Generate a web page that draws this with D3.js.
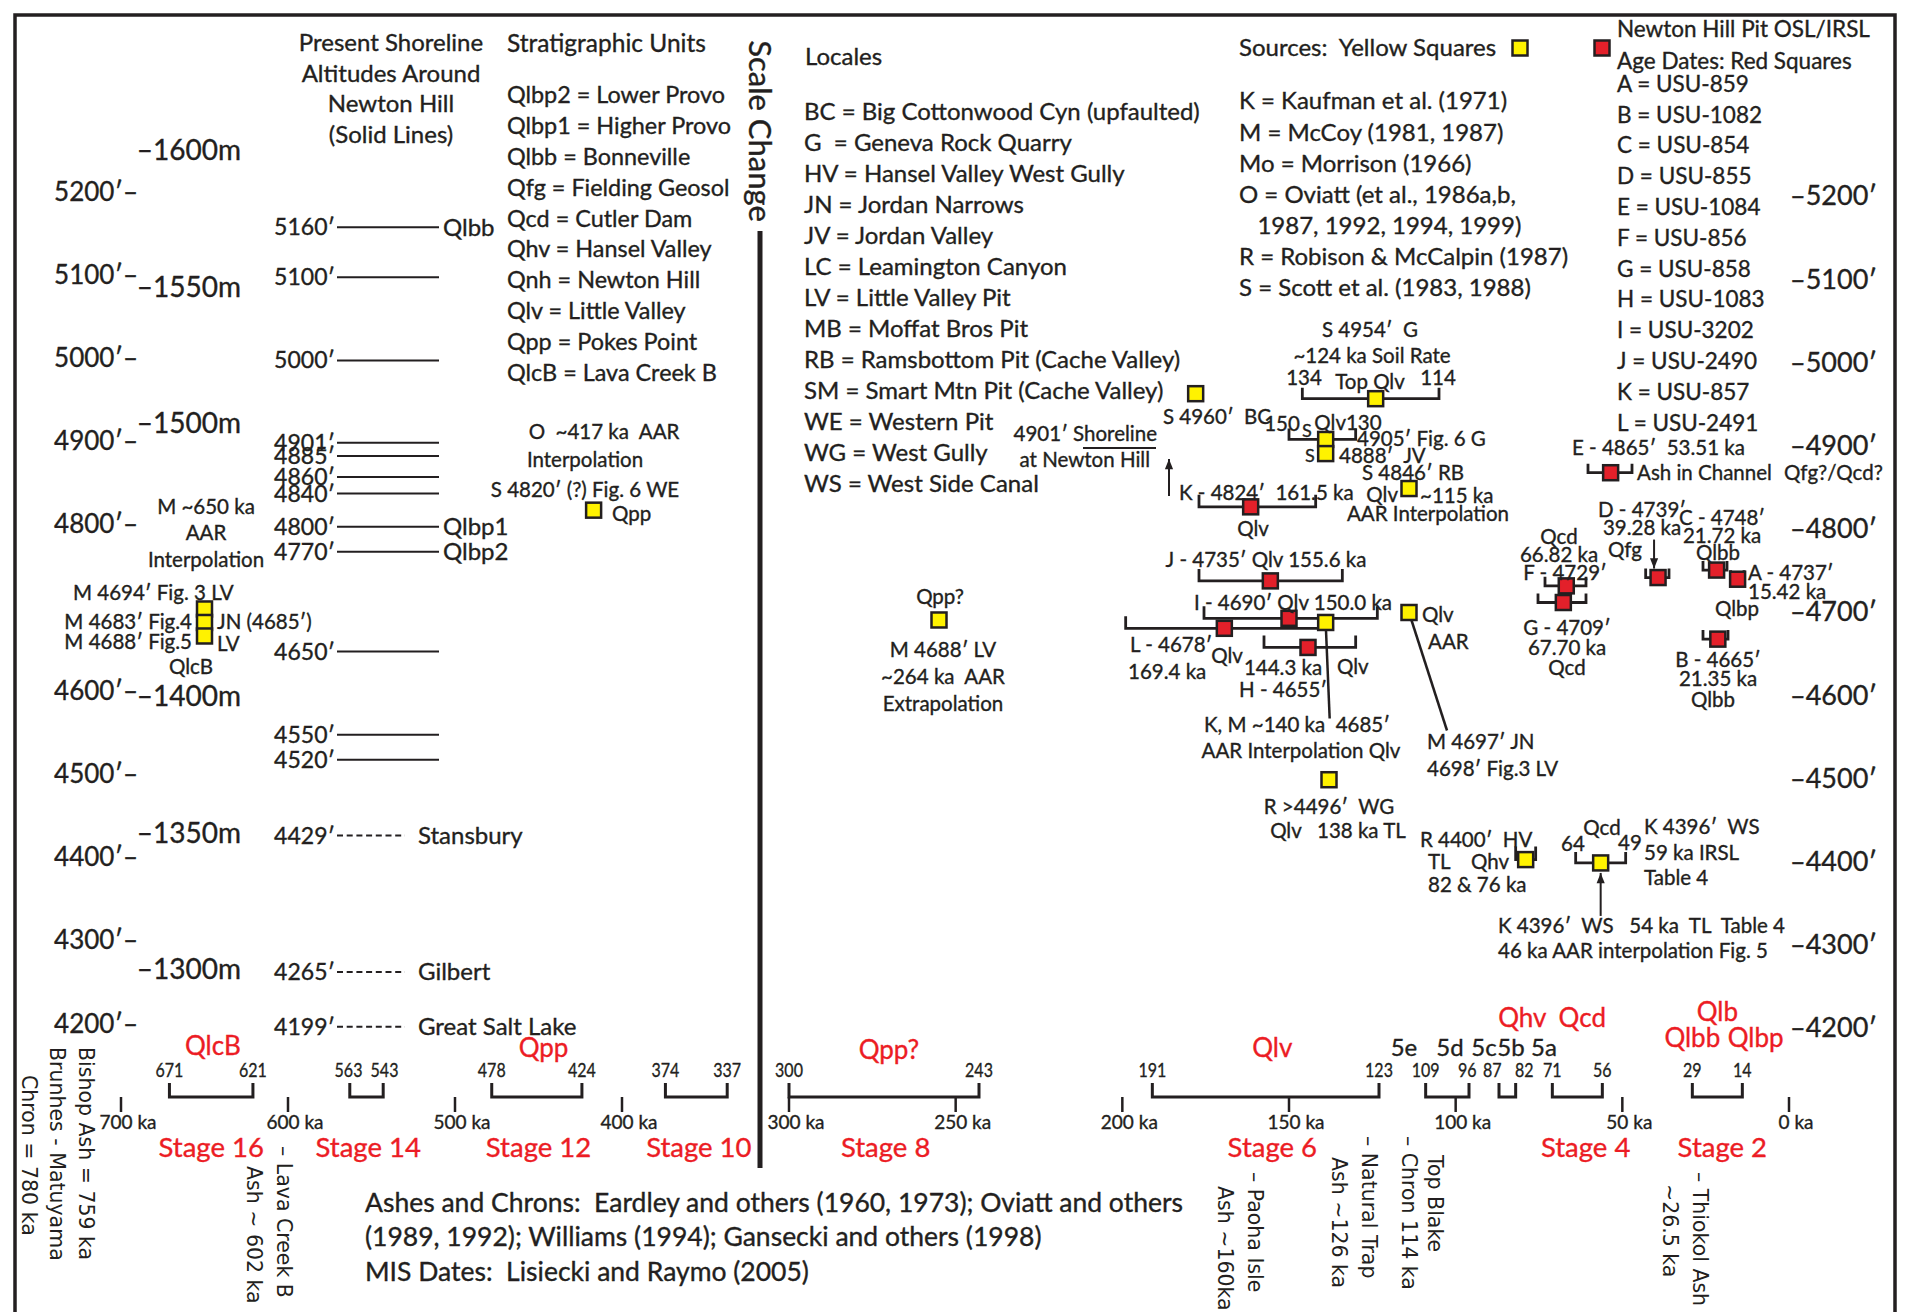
<!DOCTYPE html>
<html><head><meta charset="utf-8">
<script src="https://cdn.jsdelivr.net/npm/d3@7"></script>
<style>
html,body{margin:0;padding:0;background:#fff;}
svg{display:block;}
</style></head><body>
<svg id="chart" width="1910" height="1312"></svg>
<script>
// ================= DATA =================
const leftFeetTicks  = [5200,5100,5000,4900,4800,4600,4500,4400,4300,4200];
const rightFeetTicks = [5200,5100,5000,4900,4800,4700,4600,4500,4400,4300,4200];
const meterTicks     = [1600,1550,1500,1400,1350,1300];
const shorelineAlts  = [5160,5100,5000,4901,4885,4860,4840,4800,4770,4650,4550,4520];
const shorelineUnit  = ["Qlbb","","","","","","","Qlbp1","Qlbp2","","",""];
const pastShoreAlts  = [4429,4265,4199];
const pastShoreNames = ["Stansbury","Gilbert","Great Salt Lake"];
const kaTicks        = [700,600,500,400,300,250,200,150,100,50,0];
const misOld         = [671,563,478,374,300,191,109,87,71,29];
const misYoung       = [621,543,424,337,243,123,96,82,56,14];
const stageNames     = ["Stage 16","Stage 14","Stage 12","Stage 10","Stage 8","Stage 6","Stage 4","Stage 2"];
const stageKa        = [646,552,450,354,271,155,61,20];
const unitNames      = ["QlcB","Qpp","Qpp?","Qlv","Qhv","Qcd","Qlb","Qlbb","Qlbp"];
const unitKa         = [645,447,270,155,80,62,21.5,29,10];
const substageNames  = ["5e","5d","5c","5b","5a"];
const substageKa     = [115.5,101.7,91.5,83.4,73.5];
const ashNames       = [["– Paoha Isle","Ash ~160ka"],["– Natural Trap","Ash ~126 ka"],["– Chron 114 ka"],["Top Blake"],["– Thiokol Ash","~26.5 ka"],["– Lava Creek B","Ash ~ 602 ka"]];
const ashKa          = [160,126,114,106,26.5,602];

// Newton Hill Pit OSL/IRSL age dates (red squares)
const redIds   = ["A","B","C","D","E","F","G","H","I","J","K","L"];
const redLab   = ["USU-859","USU-1082","USU-854","USU-855","USU-1084","USU-856","USU-858","USU-1083","USU-3202","USU-2490","USU-857","USU-2491"];
const redAge   = [15.42,21.35,21.72,39.28,53.51,66.82,67.70,144.3,150.0,155.6,161.5,169.4];
const redAlt   = [4737,4665,4748,4739,4865,4729,4709,4655,4690,4735,4824,4678];
const redOld   = [17.5,25.8,25.8,43,60.3,73.2,75.3,157.5,175.5,177,177,199];
const redYoung = [13.5,18.3,18.6,36,47.1,60.9,60.9,130,123.5,134,142,140];

// Sources (yellow squares)
const srcAge   = [178,124,139,139,114,114,139,138,79,56.5,417,255,650,650,650];
const srcAlt   = [4960,4954,4905,4888,4846,4697,4685,4496,4400,4396,4820,4688,4694,4683,4688];
const srcOld   = [null,146,150,null,null,null,null,null,82,64,null,null,null,null,null];
const srcYoung = [null,105,130,null,null,null,null,null,76,49,null,null,null,null,null];
const srcStack = [null,null,null,null,null,null,null,null,null,null,null,null,-1,0,1];

const stratUnits = ["Qlbp2 = Lower Provo","Qlbp1 = Higher Provo","Qlbb = Bonneville","Qfg = Fielding Geosol","Qcd = Cutler Dam","Qhv = Hansel Valley","Qnh = Newton Hill","Qlv = Little Valley","Qpp = Pokes Point","QlcB = Lava Creek B"];
const locales = ["BC = Big Cottonwood Cyn (upfaulted)","G  = Geneva Rock Quarry","HV = Hansel Valley West Gully","JN = Jordan Narrows","JV = Jordan Valley","LC = Leamington Canyon","LV = Little Valley Pit","MB = Moffat Bros Pit","RB = Ramsbottom Pit (Cache Valley)","SM = Smart Mtn Pit (Cache Valley)","WE = Western Pit","WG = West Gully","WS = West Side Canal"];
const sources = ["K = Kaufman et al. (1971)","M = McCoy (1981, 1987)","Mo = Morrison (1966)","O = Oviatt (et al., 1986a,b,","   1987, 1992, 1994, 1999)","R = Robison & McCalpin (1987)","S = Scott et al. (1983, 1988)"];

// ================= DRAW =================
const FONT = "Lato, 'Open Sans', sans-serif";
const ALT_FONT = "'DejaVu Sans', sans-serif";
const INK = "#231f20", RED = "#ec1c24", REDF = "#e3202a", YEL = "#fff200";
const svg = d3.select("#chart");
const y = d3.scaleLinear().domain([5200,4200]).range([194,1026]);
const x = d3.scaleLinear().domain([700,300,0]).range([121,789,1789]);
const FT_PER_M = 3.28084;

function txt(s, px, py, anchor="start", size=20, fill=INK, font=FONT){
  return svg.append("text").attr("x",px).attr("y",py).attr("dy","0.35em")
    .attr("text-anchor",anchor).attr("font-size",size).attr("fill",fill)
    .attr("stroke",fill).attr("stroke-width",0.35)
    .attr("font-family",font).style("white-space","pre").text(s);
}
function ctext(s, px, py, size=20, sx=0.8){
  return svg.append("text").attr("transform",`translate(${px},${py}) scale(${sx},1)`).attr("dy","0.35em")
    .attr("text-anchor","middle").attr("font-size",size).attr("fill",INK)
    .attr("stroke",INK).attr("stroke-width",0.35).attr("font-family",FONT).text(s);
}
function line(x1,y1,x2,y2,w=2.5){
  return svg.append("line").attr("x1",x1).attr("y1",y1).attr("x2",x2).attr("y2",y2)
    .attr("stroke",INK).attr("stroke-width",w);
}
function bracket(xa,xb,yb,h,w=3){
  svg.append("path").attr("d",`M${xa},${yb-h}V${yb}H${xb}V${yb-h}`)
    .attr("fill","none").attr("stroke",INK).attr("stroke-width",w);
}
function arrow(x1,y1,x2,y2){
  line(x1,y1,x2,y2,2);
  const a=Math.atan2(y2-y1,x2-x1), L=11, s=0.38;
  svg.append("path").attr("d",`M${x2},${y2}L${x2-L*Math.cos(a-s)},${y2-L*Math.sin(a-s)}L${x2-L*Math.cos(a+s)},${y2-L*Math.sin(a+s)}Z`).attr("fill",INK);
}
function square(cx,cy,fill){
  svg.append("rect").attr("x",cx-7.5).attr("y",cy-7.5).attr("width",15).attr("height",15)
    .attr("fill",fill).attr("stroke",INK).attr("stroke-width",2.5);
}

// frame
svg.append("path").attr("d","M15,1320V15H1895V1320").attr("fill","none").attr("stroke",INK).attr("stroke-width",3.5);

// scale change bar
svg.append("rect").attr("x",757.5).attr("y",231).attr("width",5).attr("height",937).attr("fill",INK);
svg.append("text").attr("transform","translate(760,131) rotate(90)").attr("dy","0.35em")
  .attr("text-anchor","middle").attr("font-size",31).attr("font-family",FONT).attr("fill",INK)
  .attr("stroke",INK).attr("stroke-width",0.35).text("Scale Change");

// headers
["Present Shoreline","Altitudes Around","Newton Hill","(Solid Lines)"].forEach((s,i)=>txt(s,391,43+i*30.5,"middle",24));
txt("Stratigraphic Units",507,43,"start",24.5);
stratUnits.forEach((s,i)=>txt(s,507,95+i*30.85,"start",23.4));
txt("Locales",805,57,"start",24);
locales.forEach((s,i)=>txt(s,804,112+i*30.95,"start",24));
txt("Sources:  Yellow Squares",1239,48,"start",24);
sources.forEach((s,i)=>txt(s,1239,101+i*31.1,"start",24));
square(1520,48,YEL); square(1602,48,REDF);
txt("Newton Hill Pit OSL/IRSL",1617,29,"start",22.5);
txt("Age Dates: Red Squares",1617,61,"start",22.5);
redIds.forEach((d,i)=>txt(`${d} = ${redLab[i]}`,1617,84+i*30.8,"start",22.5));

// altitude axes
leftFeetTicks.forEach(v=>txt(`${v}′–`,138,y(v)-2.5,"end",26));
meterTicks.forEach(m=>txt(`–${m}m`,241,y(m*FT_PER_M)-2.5,"end",28));
rightFeetTicks.forEach(v=>txt(`–${v}′`,1790,y(v)+2,"start",27));

// present shorelines
shorelineAlts.forEach((v,i)=>{
  txt(`${v}′`,335,y(v),"end",23);
  line(337,y(v),439,y(v),2);
  if(shorelineUnit[i]) txt(shorelineUnit[i],443,y(v),"start",24);
});
pastShoreAlts.forEach((v,i)=>{
  txt(`${v}′`,335,y(v),"end",23);
  line(337,y(v),405,y(v),2).attr("stroke-dasharray","6,3.7");
  txt(pastShoreNames[i],418,y(v),"start",24);
});

// time axis
const AX_Y = 1097;
kaTicks.forEach(k=>{ line(x(k),AX_Y,x(k),AX_Y+15,2.5); txt(`${k} ka`,x(k)+7,1122,"middle",19); });
const misLabels = [];
misOld.forEach((o,i)=>{
  const xa = x(o), xb = x(misYoung[i]);
  bracket(xa,xb,AX_Y,14,3);
  const sh = Math.max(0,(34-(xb-xa))/2);
  misLabels.push({s:String(o),p:xa-sh},{s:String(misYoung[i]),p:xb+sh});
});
for(let k=1;k<misLabels.length;k++){
  const a=misLabels[k-1], b=misLabels[k], gap=b.p-a.p, need=11*(a.s.length+b.s.length)/2+3;
  if(gap<need){ const d=(need-gap)/2; a.p-=d; b.p+=d; }
}
misLabels.forEach(l=>ctext(l.s,l.p,1070));
stageNames.forEach((s,i)=>txt(s,x(stageKa[i]),1147,"middle",27.5,RED));
const unitRowY = [1046,1048,1050,1048,1018,1018,1012,1038,1038];
unitNames.forEach((s,i)=>txt(s,x(unitKa[i]),unitRowY[i],"middle",26,RED));
substageNames.forEach((s,i)=>txt(s,x(substageKa[i]),1048,"middle",24));

// ashes and chrons (rotated)
function vtext(s,cx,top,size=20.5){
  svg.append("text").attr("transform",`translate(${cx},${top}) rotate(90)`).attr("dy","0.35em")
    .attr("font-size",size).attr("font-family",ALT_FONT).attr("fill",INK).style("white-space","pre").text(s);
}
const ashTop = [[1172,1186],[1136,1157],[1136],[1155],[1172,1184],[1146,1166]];
ashNames.forEach((ls,i)=>{
  ls.forEach((s,j)=>vtext(s,x(ashKa[i])-j*30,ashTop[i][j]));
});
vtext("Bishop Ash = 759 ka",86,1047);
vtext("Brunhes - Matuyama",57,1047);
vtext("Chron = 780 ka",29,1075);

// references
txt("Ashes and Chrons:  Eardley and others (1960, 1973); Oviatt and others",365,1203,"start",26.5);
txt("(1989, 1992); Williams (1994); Gansecki and others (1998)",365,1237,"start",26.5);
txt("MIS Dates:  Lisiecki and Raymo (2005)",365,1272,"start",26.5);

// ---------- data brackets ----------
redAge.forEach((a,i)=>{
  const w = x(redYoung[i])-x(redOld[i]);
  bracket(x(redOld[i]),x(redYoung[i]),y(redAlt[i]),w>60?12:9,2.8);
});
srcAge.forEach((a,i)=>{
  if(srcOld[i]!=null) bracket(x(srcOld[i]),x(srcYoung[i]),y(srcAlt[i]),srcOld[i]-srcYoung[i]>10?11:13,2.8);
});

// leader lines & arrows
line(x(139),y(4685),x(139)+4,y(4685)+96,2.5);
line(x(114),y(4697),x(114)+38,y(4697)+118,2.5);
arrow(x(56.5),y(4396)+53,x(56.5),y(4396)+10);
arrow(x(39.28)-4,y(4739)-38,x(39.28)-4,y(4739)-9);
arrow(1169,496,1169,459);
line(1083,448,1156,448,1.8);

// squares
srcAge.forEach((a,i)=>{
  const cy = srcStack[i]!=null ? y(4685)+srcStack[i]*13.5 : y(srcAlt[i]);
  square(x(a),cy,YEL);
});
redAge.forEach((a,i)=>square(x(a),y(redAlt[i]),REDF));

// ---------- annotations ----------
const notes = [
 ["M ~650 ka",206,507,"middle"],["AAR",206,533,"middle"],["Interpolation",206,560,"middle"],
 ["M 4694′ Fig. 3 LV",73,593,"start"],["M 4683′ Fig.4",192,622,"end"],["JN (4685′)",217,622,"start"],
 ["M 4688′ Fig.5",192,642,"end"],["LV",217,644,"start"],["QlcB",191,667,"middle"],
 ["O  ~417 ka  AAR",604,432,"middle"],["Interpolation",585,460,"middle"],["S 4820′ (?) Fig. 6 WE",585,490,"middle"],["Qpp",612,514,"start"],
 ["Qpp?",940,597,"middle"],["M 4688′ LV",943,650,"middle"],["~264 ka  AAR",943,677,"middle"],["Extrapolation",943,704,"middle"],
 ["4901′ Shoreline",1157,434,"end"],["at Newton Hill",1150,460,"end"],
 ["S 4960′  BC",1217,417,"middle"],
 ["S 4954′  G",1370,330,"middle"],["~124 ka Soil Rate",1372,356,"middle"],["134",1304,378,"middle"],["Top Qlv",1370,382,"middle"],["114",1438,378,"middle"],
 ["150",1282,424,"middle"],["Qlv130",1348,423,"middle"],["4905′ Fig. 6 G",1357,439,"start"],["4888′  JV",1339,456,"start"],
 ["S 4846′ RB",1413,473,"middle"],["Qlv",1398,495,"end"],["~115 ka",1420,496,"start"],["AAR Interpolation",1428,514,"middle"],
 ["K - 4824′  161.5 ka",1179,493,"start"],["Qlv",1253,529,"middle"],
 ["J - 4735′ Qlv 155.6 ka",1266,560,"middle"],["I - 4690′ Qlv 150.0 ka",1293,603,"middle"],
 ["Qlv",1422,615,"start"],["AAR",1428,642,"start"],
 ["L - 4678′",1130,645,"start"],["169.4 ka",1128,672,"start"],["Qlv",1227,656,"middle"],
 ["144.3 ka",1283,668,"middle"],["H - 4655′",1283,690,"middle"],["Qlv",1337,667,"start"],
 ["K, M ~140 ka  4685′",1297,725,"middle"],["AAR Interpolation Qlv",1301,751,"middle"],
 ["M 4697′ JN",1427,742,"start"],["4698′ Fig.3 LV",1427,769,"start"],
 ["R >4496′  WG",1329,807,"middle"],["Qlv   138 ka TL",1338,831,"middle"],
 ["R 4400′  HV",1420,840,"start"],["TL",1428,862,"start"],["Qhv",1471,862,"start"],["82 & 76 ka",1428,885,"start"],
 ["Qcd",1602,828,"middle"],["64",1573,844,"middle"],["49",1630,843,"middle"],
 ["K 4396′  WS",1644,827,"start"],["59 ka IRSL",1644,853,"start"],["Table 4",1644,878,"start"],
 ["K 4396′  WS   54 ka  TL  Table 4",1498,926,"start"],["46 ka AAR interpolation Fig. 5",1498,951,"start"],
 ["E - 4865′  53.51 ka",1572,448,"start"],["Ash in Channel",1637,473,"start"],["Qfg?/Qcd?",1784,473,"start"],
 ["D - 4739′",1642,510,"middle"],["39.28 ka",1642,528,"middle"],["Qfg",1625,550,"middle"],
 ["C - 4748′",1722,518,"middle"],["21.72 ka",1722,536,"middle"],["Qlbb",1718,553,"middle"],
 ["Qcd",1559,537,"middle"],["66.82 ka",1559,555,"middle"],["F - 4729′",1565,573,"middle"],
 ["G - 4709′",1567,628,"middle"],["67.70 ka",1567,648,"middle"],["Qcd",1567,668,"middle"],
 ["A - 4737′",1748,573,"start"],["15.42 ka",1748,592,"start"],["Qlbp",1737,609,"middle"],
 ["B - 4665′",1718,660,"middle"],["21.35 ka",1718,679,"middle"],["Qlbb",1713,700,"middle"]
];
notes.forEach(n=>txt(n[0],n[1],n[2],n[3],20.5));
txt("S",1307,431,"middle",18); txt("S",1310,456,"middle",18);
</script>
</body></html>
